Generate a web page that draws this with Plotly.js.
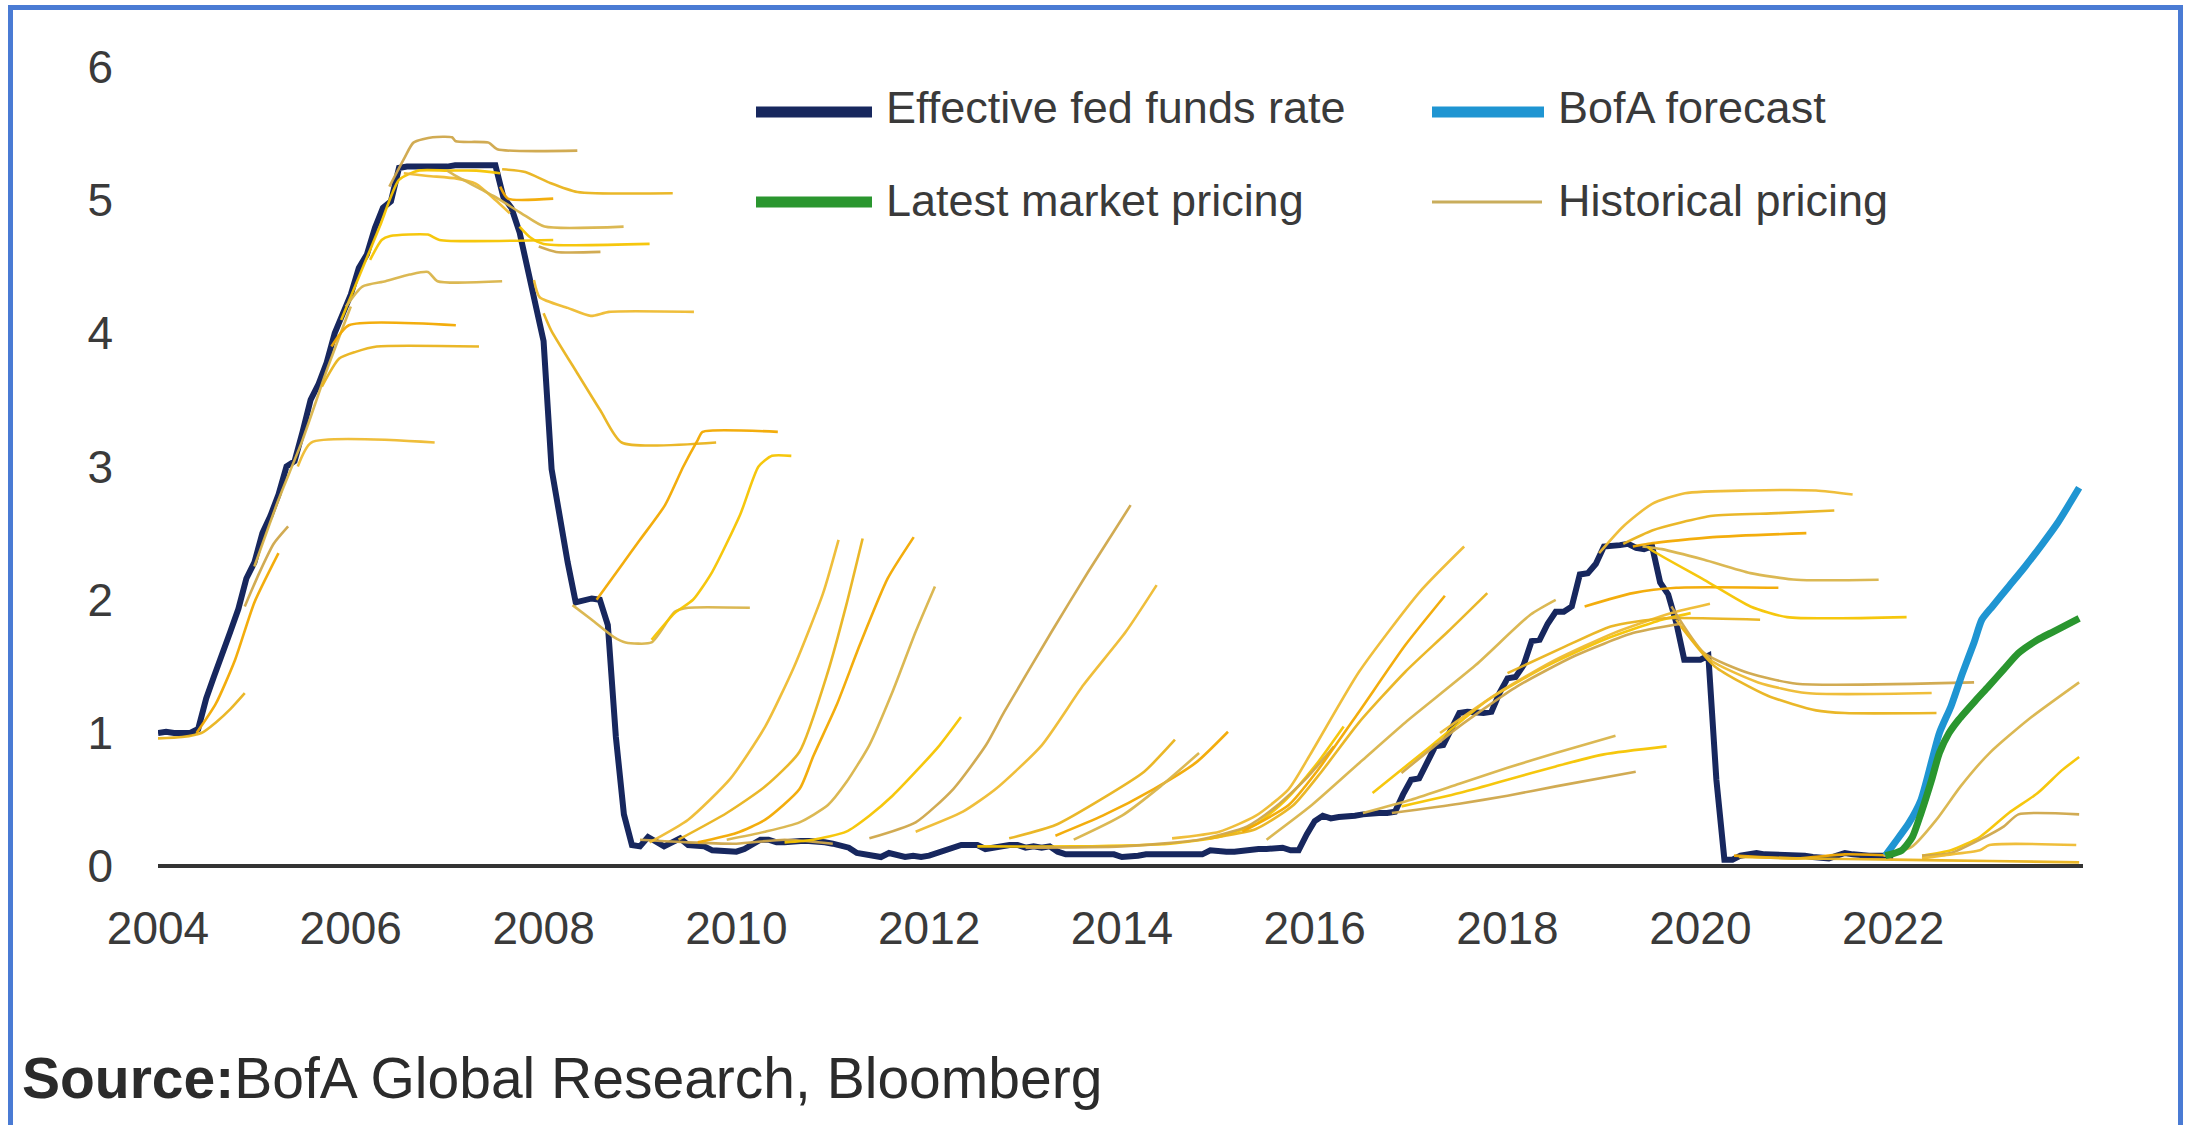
<!DOCTYPE html>
<html>
<head>
<meta charset="utf-8">
<script src="https://cdn.plot.ly/plotly-3.0.1.min.js"></script>
<style>
  html, body { margin: 0; padding: 0; background: #ffffff; overflow: hidden; }
  #chart { position: absolute; left: 0; top: 0; width: 2193px; height: 1125px; }
  #frame { position: absolute; left: 8px; top: 5px; width: 2175px; height: 1200px;
           border: 5px solid #4a7bd4; box-sizing: border-box; pointer-events: none; }
</style>
</head>
<body>
<div id="chart"></div>
<div id="frame"></div>
<script>
// ---------------- DATA ----------------
// Effective fed funds rate, monthly, Jan 2004 .. Jan 2022 (%)
const effrStartYear = 2004;
const effrRates = [
  1.00,1.01,1.00,1.00,1.00,1.03,1.26,1.43,1.61,1.76,1.93,2.16,
  2.28,2.50,2.63,2.79,3.00,3.04,3.26,3.50,3.62,3.78,4.00,4.16,
  4.29,4.49,4.59,4.79,4.94,4.99,5.24,5.25,5.25,5.25,5.25,5.24,
  5.25,5.26,5.26,5.25,5.25,5.25,5.26,5.02,4.94,4.76,4.49,4.24,
  3.94,2.98,2.61,2.28,1.98,2.00,2.01,2.00,1.81,0.97,0.39,0.16,
  0.15,0.22,0.18,0.15,0.18,0.21,0.16,0.16,0.15,0.12,0.12,0.12,
  0.11,0.13,0.16,0.20,0.20,0.18,0.18,0.19,0.19,0.19,0.19,0.18,
  0.17,0.16,0.14,0.10,0.09,0.09,0.07,0.10,0.08,0.07,0.08,0.07,
  0.08,0.10,0.13,0.14,0.16,0.16,0.16,0.13,0.14,0.16,0.16,0.16,
  0.14,0.15,0.14,0.15,0.11,0.09,0.09,0.08,0.08,0.09,0.08,0.09,
  0.07,0.07,0.08,0.09,0.09,0.10,0.09,0.09,0.09,0.09,0.09,0.12,
  0.11,0.11,0.11,0.12,0.12,0.13,0.13,0.14,0.14,0.12,0.12,0.24,
  0.34,0.38,0.36,0.37,0.37,0.38,0.39,0.40,0.40,0.40,0.41,0.54,
  0.65,0.66,0.79,0.90,0.91,1.04,1.15,1.16,1.15,1.15,1.16,1.30,
  1.41,1.42,1.51,1.69,1.70,1.82,1.91,1.91,1.95,2.19,2.20,2.27,
  2.40,2.40,2.41,2.42,2.39,2.38,2.40,2.13,2.04,1.83,1.55,1.55,
  1.55,1.58,0.65,0.05,0.05,0.08,0.09,0.10,0.09,0.09,0.09,0.09,
  0.09,0.08,0.07,0.07,0.06,0.08,0.10,0.09,0.08,0.08,0.08,0.08,
  0.08
];

// BofA forecast
const bofaYears = [2021.92,2022.01,2022.16,2022.29,2022.48,2022.60,2022.72,2022.84,2022.92,2023.03,2023.20,2023.37,2023.55,2023.71,2023.93];
const bofaRates = [0.08,0.17,0.32,0.50,1.00,1.20,1.45,1.68,1.85,1.95,2.10,2.25,2.42,2.58,2.84];

// Latest market pricing
const marketYears = [2021.92,2022.09,2022.20,2022.29,2022.40,2022.48,2022.58,2022.68,2022.85,2022.99,2023.15,2023.30,2023.50,2023.66,2023.93];
const marketRates = [0.08,0.12,0.22,0.40,0.65,0.85,1.00,1.10,1.24,1.35,1.48,1.60,1.70,1.76,1.86];

// Historical pricing curves (dates as decimal years, rates in %)
const histYears = [
  [2004.0,2004.25,2004.45,2004.6,2004.75,2004.9],
  [2004.4,2004.6,2004.8,2005.0,2005.25],
  [2005.0,2005.25,2005.5,2005.75,2006.0],
  [2005.9,2006.1,2006.3,2006.5,2006.7,2007.0,2007.3,2007.55],
  [2004.9,2005.05,2005.2,2005.35],
  [2005.45,2005.59,2006.87],
  [2005.7,2005.88,2006.05,2006.27,2007.33],
  [2005.8,2005.98,2007.09],
  [2005.95,2006.12,2006.36,2006.61,2006.8,2006.9,2007.57],
  [2006.2,2006.32,2006.41,2006.8,2006.92,2008.1],
  [2006.4,2006.56,2006.65,2006.85,2007.05,2007.09,2007.43,2007.52,2008.35],
  [2006.55,2006.8,2007.1,2007.3,2007.5,2007.65],
  [2007.57,2007.81,2008.06,2008.35,2009.34],
  [2007.55,2007.63,2008.1],
  [2007.0,2007.09,2007.48,2007.77,2008.01,2008.83],
  [2007.75,2007.86,2008.0,2009.1],
  [2007.95,2008.13,2008.59],
  [2007.9,2007.96,2008.25,2008.49,2008.68,2009.56],
  [2008.0,2008.08,2008.35,2008.59,2008.81,2009.79],
  [2008.55,2008.8,2009.0,2009.26,2009.45,2009.6,2009.65,2010.43],
  [2008.3,2008.5,2008.73,2008.85,2009.12,2009.36,2009.5,2010.14],
  [2009.12,2009.36,2009.55,2009.75,2010.04,2010.23,2010.37,2010.57],
  [2009.0,2009.5,2010.0,2010.5,2011.0],
  [2009.1,2009.5,2009.94,2010.3,2010.6,2010.9,2011.06],
  [2009.4,2009.9,2010.3,2010.655,2010.95,2011.14,2011.31],
  [2009.6,2010.0,2010.3,2010.655,2010.8,2011.04,2011.28,2011.57,2011.84],
  [2009.9,2010.3,2010.655,2010.95,2011.14,2011.38,2011.62,2011.86,2012.06],
  [2010.5,2010.8,2011.14,2011.38,2011.62,2011.86,2012.11,2012.33],
  [2011.38,2011.86,2012.25,2012.59,2012.78,2013.27,2013.65,2014.09],
  [2011.86,2012.35,2012.69,2013.17,2013.6,2014.04,2014.36],
  [2012.83,2013.31,2013.8,2014.23,2014.55],
  [2013.31,2013.8,2014.33,2014.77,2015.1],
  [2013.5,2014.0,2014.4,2014.8],
  [2012.5,2013.5,2014.5,2015.0,2015.4,2015.7,2016.0,2016.3],
  [2013.0,2014.0,2014.8,2015.3,2015.6,2015.9,2016.2],
  [2014.52,2015.01,2015.39,2015.73,2015.97,2016.46,2017.09,2017.55],
  [2014.91,2015.39,2015.78,2016.07,2016.46,2016.94,2017.38,2017.79],
  [2015.25,2015.73,2016.02,2016.46,2016.94,2017.35],
  [2015.5,2015.97,2016.5,2016.94,2017.67,2018.24,2018.5],
  [2016.6,2017.2,2017.8,2018.4,2019.0,2019.6,2019.9],
  [2016.9,2017.5,2018.1,2018.7,2019.3,2019.8],
  [2017.3,2017.9,2018.5,2019.1,2019.7,2020.1],
  [2018.0,2018.6,2019.07,2019.6,2020.62],
  [2018.8,2019.3,2019.75,2020.81],
  [2016.5,2017.0,2017.5,2018.0,2018.5,2019.12],
  [2016.9,2017.5,2018.0,2018.5,2019.0,2019.65],
  [2016.8,2017.5,2018.0,2018.5,2019.33],
  [2018.95,2019.2,2019.5,2019.84,2020.5,2021.2,2021.58],
  [2019.2,2019.5,2019.8,2020.13,2020.8,2021.39],
  [2019.3,2019.46,2020.13,2021.1],
  [2019.4,2019.6,2020.04,2020.52,2021.0,2021.85],
  [2019.45,2019.5,2020.04,2020.52,2020.9,2022.14],
  [2019.7,2020.04,2020.5,2021.0,2022.84],
  [2019.75,2020.1,2020.6,2021.1,2022.4],
  [2019.8,2020.15,2020.7,2021.2,2021.5,2022.45],
  [2020.35,2021.0,2021.5,2022.0],
  [2021.9,2022.2,2022.45,2022.7,2023.0,2023.4,2023.93],
  [2022.3,2022.6,2022.9,2023.2,2023.5,2023.75,2023.93],
  [2022.3,2022.6,2022.9,2023.15,2023.3,2023.93],
  [2022.3,2022.5,2022.9,2023.0,2023.9],
  [2020.4,2021.0,2022.0,2023.0,2023.93]
];
const histRates = [
  [0.96,0.97,1.0,1.08,1.18,1.3],
  [1.0,1.22,1.55,1.98,2.35],
  [2.25,2.75,3.2,3.72,4.2],
  [4.1,4.45,4.8,5.15,5.22,5.22,5.22,5.2],
  [1.95,2.2,2.42,2.55],
  [3.0,3.18,3.18],
  [3.6,3.81,3.86,3.90,3.90],
  [3.9,4.06,4.06],
  [4.2,4.35,4.39,4.44,4.46,4.39,4.39],
  [4.55,4.70,4.73,4.74,4.70,4.70],
  [5.1,5.32,5.43,5.47,5.47,5.44,5.43,5.38,5.37],
  [5.2,5.18,5.16,5.12,5.0,4.9],
  [5.23,5.21,5.13,5.06,5.05],
  [5.1,5.01,5.01],
  [5.22,5.18,5.03,4.90,4.80,4.80],
  [4.8,4.72,4.67,4.67],
  [4.65,4.61,4.61],
  [4.4,4.27,4.19,4.13,4.16,4.16],
  [4.15,4.02,3.70,3.42,3.18,3.18],
  [2.0,2.25,2.45,2.71,3.0,3.2,3.26,3.26],
  [1.96,1.85,1.72,1.68,1.68,1.91,1.94,1.94],
  [1.7,1.9,2.0,2.21,2.64,3.0,3.08,3.08],
  [0.2,0.18,0.17,0.2,0.17],
  [0.18,0.35,0.66,1.05,1.5,2.05,2.45],
  [0.2,0.4,0.6,0.86,1.46,1.96,2.46],
  [0.18,0.25,0.35,0.58,0.83,1.21,1.66,2.16,2.47],
  [0.2,0.26,0.33,0.46,0.63,0.91,1.31,1.76,2.10],
  [0.18,0.2,0.26,0.38,0.53,0.71,0.91,1.12],
  [0.21,0.33,0.58,0.91,1.16,1.76,2.21,2.71],
  [0.26,0.41,0.58,0.91,1.36,1.76,2.11],
  [0.21,0.31,0.51,0.71,0.95],
  [0.23,0.38,0.58,0.78,1.01],
  [0.2,0.38,0.6,0.85],
  [0.15,0.15,0.17,0.22,0.32,0.5,0.75,1.05],
  [0.14,0.15,0.2,0.3,0.45,0.65,0.9],
  [0.21,0.26,0.38,0.58,0.86,1.46,2.06,2.40],
  [0.21,0.28,0.46,0.71,1.08,1.46,1.76,2.05],
  [0.26,0.46,0.71,1.16,1.66,2.03],
  [0.2,0.46,0.8,1.08,1.51,1.89,2.0],
  [0.55,0.9,1.25,1.5,1.7,1.85,1.9],
  [0.7,1.05,1.35,1.58,1.75,1.82],
  [1.0,1.3,1.55,1.75,1.9,1.97],
  [1.45,1.65,1.80,1.86,1.85],
  [1.95,2.05,2.09,2.09],
  [0.40,0.50,0.62,0.74,0.85,0.98],
  [0.45,0.55,0.65,0.75,0.84,0.90],
  [0.40,0.47,0.53,0.60,0.71],
  [2.35,2.55,2.72,2.80,2.82,2.82,2.79],
  [2.42,2.52,2.58,2.63,2.65,2.67],
  [2.4,2.42,2.47,2.50],
  [2.4,2.38,2.30,2.20,2.15,2.15],
  [2.4,2.37,2.15,1.95,1.87,1.87],
  [1.95,1.60,1.45,1.37,1.38],
  [1.85,1.55,1.38,1.30,1.30],
  [1.8,1.5,1.28,1.17,1.15,1.15],
  [0.08,0.06,0.09,0.08],
  [0.08,0.15,0.35,0.6,0.85,1.1,1.38],
  [0.08,0.12,0.22,0.4,0.55,0.72,0.82],
  [0.08,0.1,0.2,0.3,0.39,0.39],
  [0.06,0.08,0.12,0.16,0.16],
  [0.07,0.06,0.05,0.04,0.03]
];

// Axis ticks
const xTickYears = [2004,2006,2008,2010,2012,2014,2016,2018,2020,2022];
const xTickLabels = ['2004','2006','2008','2010','2012','2014','2016','2018','2020','2022'];
const yTickValues = [0,1,2,3,4,5,6];
const yTickLabels = ['0','1','2','3','4','5','6'];

// Legend / text
const seriesNames = ['Effective fed funds rate','BofA forecast','Latest market pricing','Historical pricing'];
const sourceText = '<b>Source:</b>BofA Global Research, Bloomberg';

// ---------------- STYLE ----------------
const colEffr = '#17275e';
const colBofa = '#1f95d2';
const colMarket = '#2a962f';
const histPalette = ['#e9b31c','#f2a900','#d9b44a','#f5c400','#cfa64a','#eebb30'];
const fontFam = '"Liberation Sans", Arial, sans-serif';
const textCol = '#3a3a3a';

const effrX = effrRates.map((_, i) => effrStartYear + i / 12);

const traces = [];
traces.push({ x: effrX, y: effrRates, type: 'scatter', mode: 'lines', name: seriesNames[0],
  line: { color: colEffr, width: 6 }, showlegend: false, hoverinfo: 'skip' });
histYears.forEach((xs, k) => {
  traces.push({ x: xs, y: histRates[k], type: 'scatter', mode: 'lines', name: seriesNames[3],
    line: { color: histPalette[k % histPalette.length], width: 2.6, shape: 'spline', smoothing: 0.6 },
    opacity: 0.95, showlegend: false, hoverinfo: 'skip' });
});
traces.push({ x: bofaYears, y: bofaRates, type: 'scatter', mode: 'lines', name: seriesNames[1],
  line: { color: colBofa, width: 7, shape: 'spline', smoothing: 0.6 }, showlegend: false, hoverinfo: 'skip' });
traces.push({ x: marketYears, y: marketRates, type: 'scatter', mode: 'lines', name: seriesNames[2],
  line: { color: colMarket, width: 7, shape: 'spline', smoothing: 0.6 }, showlegend: false, hoverinfo: 'skip' });

// plot area geometry (px)
const W = 2193, H = 1125;
const mL = 158, mR = 110, mT = 60, mB = 252;
const plotW = W - mL - mR, plotH = H - mT - mB;
const px2paperX = p => (p - mL) / plotW;
const px2paperY = p => (H - mB - p) / plotH;

const legendItems = [
  { name: seriesNames[0], color: colEffr, width: 11, x0: 756, x1: 872, y: 112, tx: 884, ty: 108 },
  { name: seriesNames[1], color: colBofa, width: 11, x0: 1432, x1: 1544, y: 112, tx: 1556, ty: 108 },
  { name: seriesNames[2], color: colMarket, width: 11, x0: 756, x1: 872, y: 202, tx: 884, ty: 200 },
  { name: seriesNames[3], color: '#c9ad5c', width: 3, x0: 1432, x1: 1542, y: 202, tx: 1556, ty: 200 }
];

const shapes = legendItems.map(it => ({
  type: 'line', xref: 'paper', yref: 'paper',
  x0: px2paperX(it.x0), x1: px2paperX(it.x1), y0: px2paperY(it.y), y1: px2paperY(it.y),
  line: { color: it.color, width: it.width }
}));

const annotations = legendItems.map(it => ({
  text: it.name, xref: 'paper', yref: 'paper', x: px2paperX(it.tx), y: px2paperY(it.ty),
  xanchor: 'left', yanchor: 'middle', showarrow: false,
  font: { family: fontFam, size: 45, color: textCol }
}));
annotations.push({
  text: sourceText, xref: 'paper', yref: 'paper', x: px2paperX(20), y: px2paperY(1078),
  xanchor: 'left', yanchor: 'middle', showarrow: false,
  font: { family: fontFam, size: 57, color: '#2b2b2b' }
});

const layout = {
  width: W, height: H,
  margin: { l: mL, r: mR, t: mT, b: mB, pad: 0 },
  paper_bgcolor: '#ffffff', plot_bgcolor: '#ffffff',
  showlegend: false,
  xaxis: {
    type: 'linear', range: [2004.0, 2023.97],
    tickmode: 'array', tickvals: xTickYears, ticktext: xTickLabels,
    showgrid: false, zeroline: false, showline: false, ticks: '',
    ticklabelstandoff: 24,
    tickfont: { family: fontFam, size: 46, color: textCol }
  },
  yaxis: {
    range: [-0.05, 6.05],
    tickmode: 'array', tickvals: yTickValues, ticktext: yTickLabels,
    showgrid: false, zeroline: true, zerolinecolor: '#333333', zerolinewidth: 4,
    showline: false, ticks: '', ticklabelstandoff: 44,
    tickfont: { family: fontFam, size: 46, color: textCol }
  },
  shapes: shapes,
  annotations: annotations
};

Plotly.newPlot('chart', traces, layout, { staticPlot: true, displayModeBar: false });
</script>
</body>
</html>
